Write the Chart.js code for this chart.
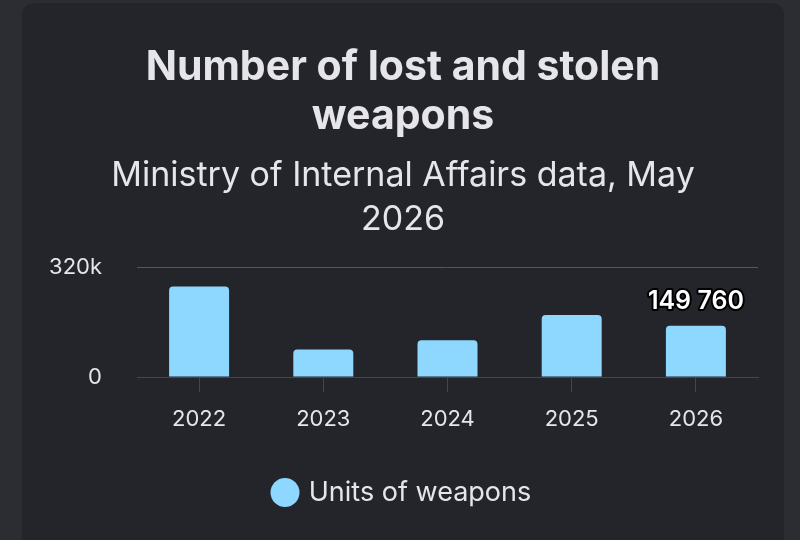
<!DOCTYPE html>
<html lang="en">
<head>
  <meta charset="UTF-8">
  <title>Lost and stolen weapons</title>
  <script src="https://cdn.jsdelivr.net/npm/chart.js"></script>
  <style>
    * { margin: 0; padding: 0; box-sizing: border-box; }
    body {
      width: 800px;
      height: 540px;
      overflow: hidden;
      background: #2b2d33;
      font-family: Inter, 'Noto Sans', sans-serif;
    }
    .card {
      position: absolute;
      left: 22px;
      top: 3px;
      width: 762px;
      height: 580px;
      background: #23252b;
      border-radius: 12px;
    }
    .chart-box {
      position: relative;
      width: 762px;
      height: 560px;
    }
  </style>
</head>
<body>
  <div class="card">
    <div class="chart-box">
      <canvas id="weaponsChart"></canvas>
    </div>
  </div>

  <script>
    // data (units of weapons)
    const years   = ['2022', '2023', '2024', '2025', '2026'];
    const weapons = [264000, 80000, 107000, 181000, 149760];
    const yTicks  = [0, 320000];
    const yTickLabels = ['0', '320k'];
    const labelledIndex = [4];   // only the last bar carries a value label

    const textColor = '#e6e6ea';
    const barColor  = '#8ed7fe';

    Chart.defaults.font.family = "Inter, 'Noto Sans', sans-serif";

    // draws white value text with a dark outline above chosen bars
    const valueLabels = {
      id: 'valueLabels',
      afterDatasetsDraw(chart) {
        const { ctx } = chart;
        const meta = chart.getDatasetMeta(0);
        ctx.save();
        ctx.font = "600 25px Inter, sans-serif";
        ctx.textAlign = 'center';
        ctx.textBaseline = 'middle';
        ctx.lineJoin = 'round';
        labelledIndex.forEach(i => {
          const bar = meta.data[i];
          const txt = weapons[i].toLocaleString('en-US').replace(/,/g, ' ');
          const y = bar.y - 24;
          ctx.lineWidth = 4;
          ctx.strokeStyle = '#000';
          ctx.strokeText(txt, bar.x, y);
          ctx.fillStyle = '#fff';
          ctx.fillText(txt, bar.x, y);
        });
        ctx.restore();
      }
    };

    new Chart(document.getElementById('weaponsChart'), {
      type: 'bar',
      data: {
        labels: years,
        datasets: [{
          label: 'Units of weapons',
          data: weapons,
          backgroundColor: barColor,
          borderRadius: { topLeft: 4, topRight: 4 },
          borderSkipped: 'bottom',
          categoryPercentage: 1,
          barPercentage: 0.483
        }]
      },
      options: {
        responsive: true,
        maintainAspectRatio: false,
        animation: false,
        layout: { padding: { top: 40, left: 26, right: 26, bottom: 47 } },
        scales: {
          x: {
            afterFit: axis => { axis.height = 82; },
            grid: {
              offset: false,
              drawOnChartArea: false,
              drawTicks: true,
              tickLength: 15,
              color: '#44464c'
            },
            border: { color: '#44464c', width: 1 },
            ticks: { color: textColor, font: { size: 22 }, padding: 14 }
          },
          y: {
            min: 0,
            max: 320000,
            afterBuildTicks: axis => { axis.ticks = yTicks.map(v => ({ value: v })); },
            afterFit: axis => { axis.width = 89; },
            grid: {
              drawTicks: false,
              color: ctx => ctx.tick && ctx.tick.value === 0 ? 'transparent' : '#55575d'
            },
            border: { display: false },
            ticks: {
              color: textColor,
              font: { size: 22 },
              padding: 35,
              callback: v => yTickLabels[yTicks.indexOf(v)]
            }
          }
        },
        plugins: {
          title: {
            display: true,
            text: ['Number of lost and stolen', 'weapons'],
            color: textColor,
            font: { size: 41, weight: 'bold', lineHeight: 1.2 },
            padding: { top: 0, bottom: 12 }
          },
          subtitle: {
            display: true,
            text: ['Ministry of Internal Affairs data, May', '2026'],
            color: textColor,
            font: { size: 34, weight: 'normal', lineHeight: 1.294 },
            padding: { top: 0, bottom: 26 }
          },
          legend: {
            position: 'bottom',
            labels: {
              color: textColor,
              font: { size: 27 },
              usePointStyle: true,
              pointStyle: 'circle',
              boxWidth: 20.5,
              boxHeight: 20.5,
              padding: 20
            }
          },
          tooltip: { enabled: false }
        }
      },
      plugins: [valueLabels]
    });
  </script>
</body>
</html>
